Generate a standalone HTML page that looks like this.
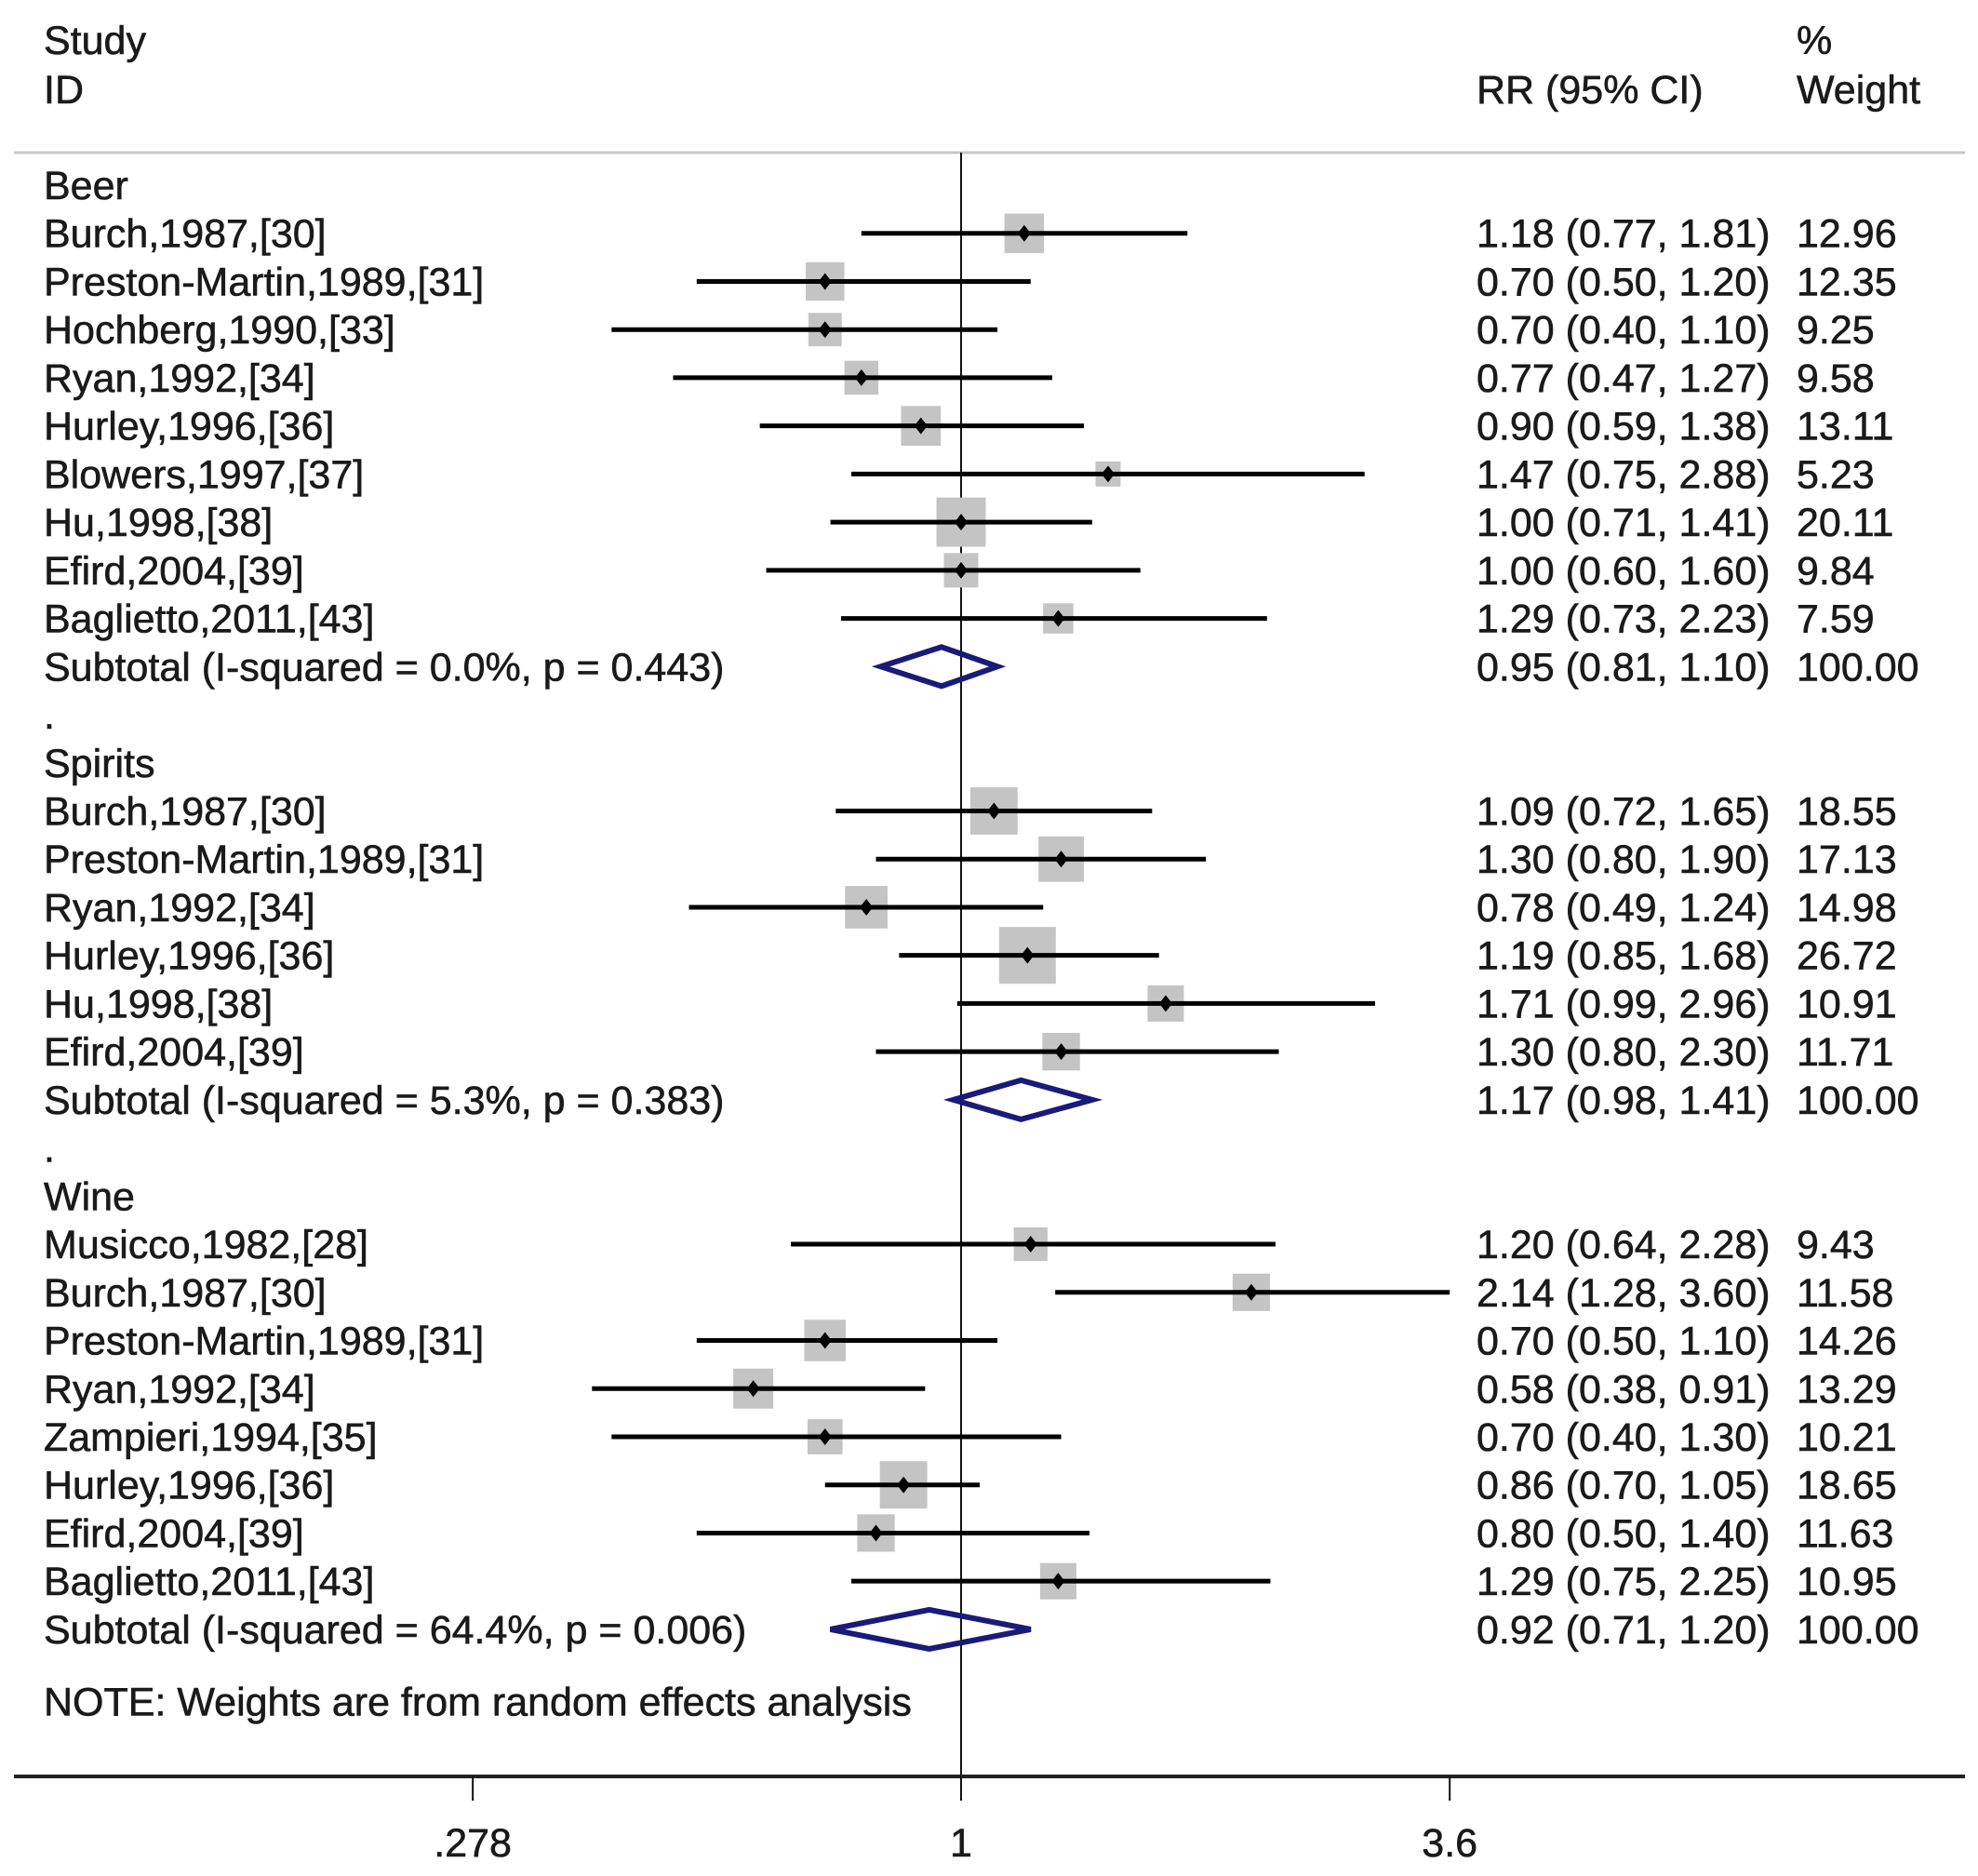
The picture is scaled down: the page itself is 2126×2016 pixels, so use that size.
<!DOCTYPE html>
<html><head><meta charset="utf-8"><style>
html,body{margin:0;padding:0;background:#fff;}
svg{display:block;}
text{font-family:"Liberation Sans",Arial,sans-serif;font-size:43px;fill:#1a1a1a;stroke:#1a1a1a;stroke-width:0.6px;}
</style></head><body>
<svg id="chart" width="2126" height="2016" viewBox="0 0 2126 2016" xmlns="http://www.w3.org/2000/svg">
<text x="47" y="58">Study</text>
<text x="47" y="111">ID</text>
<text x="1587" y="111">RR (95% CI)</text>
<text x="1931" y="58">%</text>
<text x="1931" y="111">Weight</text>
<line x1="15" y1="164" x2="2112" y2="164" stroke="#c8c8c8" stroke-width="3"/>
<g id="marks"></g>
</svg>
<script>
// row types: h=heading, s=study, t=subtotal, d=dot spacer
const rowTypes = ["h","s","s","s","s","s","s","s","s","s","t","d","h","s","s","s","s","s","s","t","d","h","s","s","s","s","s","s","s","s","t"];
const labels = ["Beer","Burch,1987,[30]","Preston-Martin,1989,[31]","Hochberg,1990,[33]","Ryan,1992,[34]","Hurley,1996,[36]","Blowers,1997,[37]","Hu,1998,[38]","Efird,2004,[39]","Baglietto,2011,[43]","Subtotal  (I-squared = 0.0%, p = 0.443)",".",
"Spirits","Burch,1987,[30]","Preston-Martin,1989,[31]","Ryan,1992,[34]","Hurley,1996,[36]","Hu,1998,[38]","Efird,2004,[39]","Subtotal  (I-squared = 5.3%, p = 0.383)",".",
"Wine","Musicco,1982,[28]","Burch,1987,[30]","Preston-Martin,1989,[31]","Ryan,1992,[34]","Zampieri,1994,[35]","Hurley,1996,[36]","Efird,2004,[39]","Baglietto,2011,[43]","Subtotal  (I-squared = 64.4%, p = 0.006)"];
const rr = [null,1.18,0.70,0.70,0.77,0.90,1.47,1.00,1.00,1.29,0.95,null,null,1.09,1.30,0.78,1.19,1.71,1.30,1.17,null,null,1.20,2.14,0.70,0.58,0.70,0.86,0.80,1.29,0.92];
const lo = [null,0.77,0.50,0.40,0.47,0.59,0.75,0.71,0.60,0.73,0.81,null,null,0.72,0.80,0.49,0.85,0.99,0.80,0.98,null,null,0.64,1.28,0.50,0.38,0.40,0.70,0.50,0.75,0.71];
const hi = [null,1.81,1.20,1.10,1.27,1.38,2.88,1.41,1.60,2.23,1.10,null,null,1.65,1.90,1.24,1.68,2.96,2.30,1.41,null,null,2.28,3.60,1.10,0.91,1.30,1.05,1.40,2.25,1.20];
const weights = [null,12.96,12.35,9.25,9.58,13.11,5.23,20.11,9.84,7.59,100.00,null,null,18.55,17.13,14.98,26.72,10.91,11.71,100.00,null,null,9.43,11.58,14.26,13.29,10.21,18.65,11.63,10.95,100.00];
const tickVals = [0.278,1,3.6];
const tickLabels = [".278","1","3.6"];

const NS="http://www.w3.org/2000/svg";
const g=document.getElementById('marks');
const X0=1033, PX=410;
function xs(v){return X0+Math.log(v)*PX;}
function ys(i){return 199+51.73*i;}
function mk(tag,attrs){const e=document.createElementNS(NS,tag);for(const k in attrs)e.setAttribute(k,attrs[k]);g.appendChild(e);return e;}

const ref=mk('line',{x1:xs(1),y1:164,x2:xs(1),y2:1935,stroke:'#111','stroke-width':2});



rowTypes.forEach((t,i)=>{
  const y=ys(i);
  const tx=mk('text',{x:47,y:y+15});
  tx.textContent=labels[i];
  
  
  if(t==='s'||t==='t'){
    const r=mk('text',{x:1587,y:y+15});
    r.textContent=rr[i].toFixed(2)+" ("+lo[i].toFixed(2)+", "+hi[i].toFixed(2)+")";
    
    
    const w=mk('text',{x:1931,y:y+15});
    w.textContent=weights[i].toFixed(2);
    
    
  }
  if(t==='s'){
    const s=11.8*Math.sqrt(weights[i]);
    const b=mk('rect',{x:xs(rr[i])-s/2,y:y-s/2,width:s,height:s,fill:'#c4c4c4'});
    
    
    const l=mk('line',{x1:xs(lo[i]),y1:y,x2:xs(hi[i]),y2:y,stroke:'#000','stroke-width':5});
    
    
    const cx=xs(rr[i]);
    const p=mk('polygon',{points:`${cx},${y-9} ${cx+7},${y} ${cx},${y+9} ${cx-7},${y}`,fill:'#000'});
    
    
  }
  if(t==='t'){
    const a=xs(lo[i]),c=xs(rr[i]),b=xs(hi[i]);
    const d=mk('polygon',{points:`${a},${y} ${c},${y-21} ${b},${y} ${c},${y+21}`,fill:'none',stroke:'#1a1a7a','stroke-width':6});
    
    
  }
});

const note=mk('text',{x:47,y:ys(31.5)+15});
note.textContent="NOTE: Weights are from random effects analysis";



const ax=mk('line',{x1:15,y1:1909,x2:2112,y2:1909,stroke:'#222','stroke-width':4});


tickVals.forEach((v,k)=>{
  const tl=mk('line',{x1:xs(v),y1:1909,x2:xs(v),y2:1935,stroke:'#111','stroke-width':2});
  
  
  const tt=mk('text',{x:xs(v),y:1995,'text-anchor':'middle'});
  tt.textContent=tickLabels[k];
  
  
});
</script>
</body></html>
